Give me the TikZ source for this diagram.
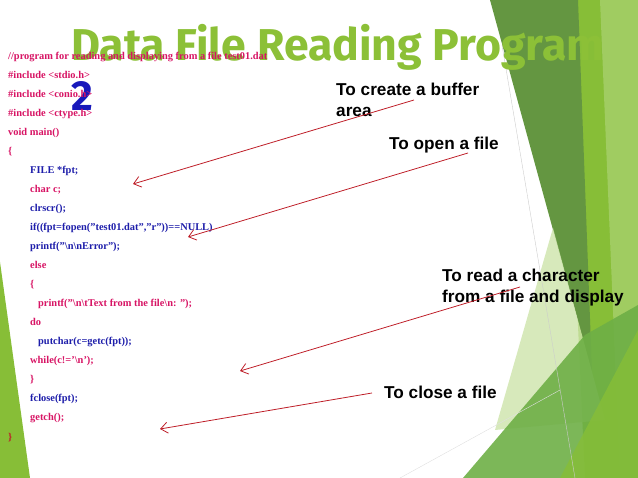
\documentclass[tikz,border=0pt]{standalone}
\usepackage{fontspec}
\setmainfont{Liberation Serif}
\newfontfamily\titlefont{Fira Sans}
\newfontfamily\labfont{Liberation Sans}
\usetikzlibrary{arrows.meta}
\definecolor{mag}{RGB}{215,20,100}
\definecolor{blu}{RGB}{30,30,170}
\definecolor{dred}{RGB}{190,30,40}
\definecolor{ttl}{RGB}{140,192,55}
\definecolor{gdark}{RGB}{100,150,65}
\definecolor{gmid}{RGB}{135,190,55}
\definecolor{glow}{RGB}{110,175,70}
\definecolor{gpale}{RGB}{205,228,170}
\tikzset{
 code/.style={anchor=base west,inner sep=0pt,font=\bfseries\fontsize{10.4}{12}\selectfont},
 lab/.style={anchor=base west,inner sep=0pt,align=left,font=\labfont\bfseries\fontsize{17.2}{21}\selectfont,text=black},
 arr/.style={draw=dred,line width=0.8pt,-{Straight Barb[length=7pt,width=11pt]}},
}
\begin{document}
\begin{tikzpicture}[x=1pt,y=-1pt]
\useasboundingbox (0,0) rectangle (638,478);
% background shapes
\fill[gmid] (563,0) -- (638,0) -- (638,478) -- (585,478) -- cycle;
\fill[gmid!70!white,opacity=0.7] (600,0) -- (638,0) -- (638,478) -- (620,478) -- cycle;
\fill[gdark] (490,0) -- (578,0) -- (592,372) -- cycle;
\fill[gpale,opacity=0.8] (553,228) -- (605,420) -- (495,430) -- cycle;
\fill[glow,opacity=0.9] (463,478) -- (585,335) -- (638,305) -- (638,478) -- cycle;
\fill[gmid,opacity=0.8] (560,478) -- (638,330) -- (638,478) -- cycle;
\fill[gmid] (0,262) -- (30,478) -- (0,478) -- cycle;
\draw[gray!40,line width=0.4pt] (502,45) -- (575,478);
\draw[gray!25,line width=0.4pt] (400,478) -- (560,390);
% title
\node[anchor=base west,inner sep=0pt,text=ttl,font=\titlefont\bfseries\fontsize{44.6}{46}\selectfont] (title) at (71,61) {Data File Reading Program};
\node[anchor=base west,inner sep=0pt,text=blu!80!blue,font=\titlefont\bfseries\fontsize{42}{44}\selectfont] (two) at (71,111) {2};
% code
\node[code,text=mag] (c0) at (8,60) {//program for reading and displaying from a file test01.dat};
\node[code,text=mag] (c1) at (8,79) {\#include <stdio.h>};
\node[code,text=mag] (c2) at (8,98) {\#include <conio.h>};
\node[code,text=mag] (c3) at (8,117) {\#include <ctype.h>};
\node[code,text=mag] (c4) at (8,136) {void main()};
\node[code,text=mag] (c5) at (8,155) {\{};
\node[code,text=blu] (c6) at (30,174) {FILE *fpt;};
\node[code,text=mag] (c7) at (30,193) {char c;};
\node[code,text=blu] (c8) at (30,212) {clrscr();};
\node[code,text=blu] (c9) at (30,231) {if((fpt=fopen("test01.dat","r"))==NULL)};
\node[code,text=blu] (c10) at (30,250) {printf("\textbackslash n\textbackslash nError");};
\node[code,text=mag] (c11) at (30,269) {else};
\node[code,text=mag] (c12) at (30,288) {\{};
\node[code,text=mag] (c13) at (38,307) {printf("\textbackslash n\textbackslash tText from the file\textbackslash n: ");};
\node[code,text=mag] (c14) at (30,326) {do};
\node[code,text=blu] (c15) at (38,345) {putchar(c=getc(fpt));};
\node[code,text=mag] (c16) at (30,364) {while(c!='\textbackslash n');};
\node[code,text=mag] (c17) at (30,383) {\}};
\node[code,text=blu] (c18) at (30,402) {fclose(fpt);};
\node[code,text=mag] (c19) at (30,421) {getch();};
\node[code,text=dred] (c20) at (8,441) {\}};
% labels
\node[lab] (l1) at (336,117) {To create a buffer\\area};
\node[lab] (l2) at (389,150) {To open a file};
\node[lab] (l3) at (442,303) {To read a character\\from a file and display};
\node[lab] (l4) at (384,399) {To close a file};
% arrows
\coordinate (s1) at (414,100); \coordinate (e1) at (133,184);
\coordinate (s2) at (468,153); \coordinate (e2) at (188,237);
\coordinate (s3) at (520,287); \coordinate (e3) at (240,371);
\coordinate (s4) at (372,393); \coordinate (e4) at (160,429);
\draw[arr] (s1) -- (e1);
\draw[arr] (s2) -- (e2);
\draw[arr] (s3) -- (e3);
\draw[arr] (s4) -- (e4);
\end{tikzpicture}
\end{document}
